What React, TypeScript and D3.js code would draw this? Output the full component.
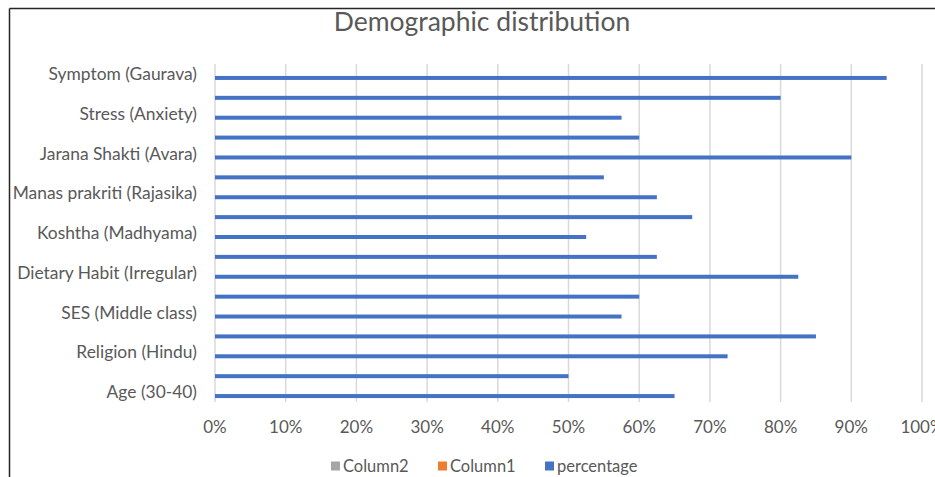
import * as d3 from 'd3'

// categories bottom -> top; null = row whose label Excel skipped
const categories: (string | null)[] = [
  'Age (30-40)',
  null,
  'Religion (Hindu)',
  null,
  'SES (Middle class)',
  null,
  'Dietary Habit (Irregular)',
  null,
  'Koshtha (Madhyama)',
  null,
  'Manas prakriti (Rajasika)',
  null,
  'Jarana Shakti (Avara)',
  null,
  'Stress (Anxiety)',
  null,
  'Symptom (Gaurava)',
]

const percentage = [0.65, 0.5, 0.725, 0.85, 0.575, 0.6, 0.825, 0.625, 0.525, 0.675, 0.625, 0.55, 0.9, 0.6, 0.575, 0.8, 0.95]
const column1: (number | null)[] = categories.map(() => null)
const column2: (number | null)[] = categories.map(() => null)

const seriesNames = ['Column2', 'Column1', 'percentage']
const seriesColors = ['#A5A5A5', '#ED7D31', '#4472C4']
const xTicks = [0, 0.1, 0.2, 0.3, 0.4, 0.5, 0.6, 0.7, 0.8, 0.9, 1]

const W = 935
const H = 477
const FONT = 'Lato, "Open Sans", sans-serif'
const TEXT = '#595959'

export default function App() {
  const x = d3.scaleLinear().domain([0, 1]).range([215, 922])
  const idx = categories.map((_, i) => i)
  const y = d3.scaleBand<number>().domain([...idx].reverse()).range([64, 402]).paddingInner(0).paddingOuter(0)
  const ySub = d3.scaleBand<string>().domain(seriesNames).range([0, y.bandwidth()]).paddingInner(0).paddingOuter(0.985)
  const fmt = d3.format('.0%')
  const series = [column2, column1, percentage]

  // legend layout
  const legendX = [331, 438, 545]

  return (
    <svg width={W} height={H} style={{ position: 'absolute', left: 0, top: 0, background: '#fff' }} fontFamily={FONT}>
      <rect x={0} y={0} width={W} height={H} fill="#fff" />
      <line x1={9.5} x2={9.5} y1={8.5} y2={H} stroke="#262626" strokeWidth={1.5} />
      <line x1={9.5} x2={W} y1={8.5} y2={8.5} stroke="#262626" strokeWidth={1.5} />
      <text x={482} y={31} textAnchor="middle" fontSize={26.5} fill={TEXT}>
        Demographic distribution
      </text>
      <g>
        {xTicks.map((t) => (
          <line key={t} x1={x(t)} x2={x(t)} y1={64} y2={402} stroke="#D9D9D9" strokeWidth={1.5} />
        ))}
      </g>
      <g>
        {series.map((vals, s) =>
          vals.map((v, i) =>
            v == null ? null : (
              <rect
                key={`${s}-${i}`}
                x={x(0)}
                y={(y(i) ?? 0) + (ySub(seriesNames[s]) ?? 0)}
                width={x(v) - x(0)}
                height={ySub.bandwidth()}
                fill={seriesColors[s]}
              />
            ),
          ),
        )}
      </g>
      <g fontSize={17.4} fill={TEXT}>
        {categories.map((c, i) =>
          c ? (
            <text key={i} x={197} y={(y(i) ?? 0) + y.bandwidth() / 2} dy="0.35em" textAnchor="end">
              {c}
            </text>
          ) : null,
        )}
      </g>
      <g fontSize={17} fill={TEXT}>
        {xTicks.map((t) => (
          <text key={t} x={x(t)} y={427} dy="0.35em" textAnchor="middle">
            {fmt(t)}
          </text>
        ))}
      </g>
      <g fontSize={16.5} fill={TEXT}>
        {seriesNames.map((n, s) => (
          <g key={n} transform={`translate(${legendX[s]},466)`}>
            <rect x={0} y={-4.5} width={9} height={9} fill={seriesColors[s]} />
            <text x={12} y={0} dy="0.35em">
              {n}
            </text>
          </g>
        ))}
      </g>
    </svg>
  )
}
